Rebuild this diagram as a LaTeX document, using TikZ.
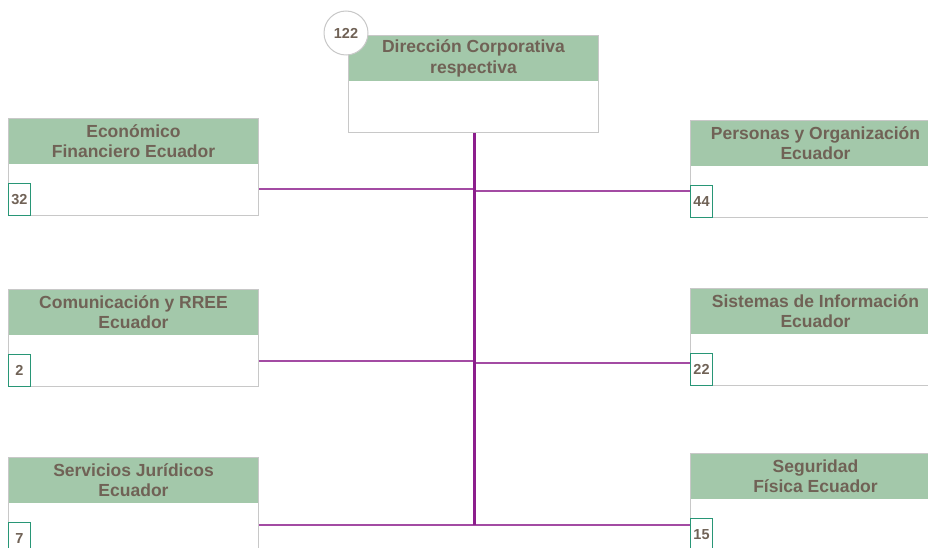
\documentclass[tikz,border=0pt]{standalone}
\usepackage{fontspec}
\setmainfont{Liberation Sans}
\usetikzlibrary{positioning, calc}
\definecolor{headgreen}{RGB}{163,200,170}
\definecolor{labelbrown}{RGB}{112,98,86}
\definecolor{framegray}{RGB}{200,200,200}
\definecolor{countgreen}{RGB}{40,150,118}
\definecolor{linkpurple}{RGB}{140,30,140}
\tikzset{
    unit/.style={draw=framegray, line width=1pt, fill=white, minimum width=250pt, minimum height=97pt, anchor=north west, inner sep=0pt},
    head/.style={fill=headgreen, minimum width=249pt, minimum height=45pt, anchor=north, align=center, inner sep=0pt, text=labelbrown, font=\bfseries\fontsize{17.5}{20.5}\selectfont},
    count/.style={draw=countgreen, line width=1pt, fill=white, minimum width=22pt, minimum height=32pt, anchor=south west, inner sep=1pt, text=labelbrown, font=\bfseries\fontsize{14.5}{16}\selectfont},
    total/.style={circle, draw=framegray, line width=1pt, fill=white, minimum size=44pt, inner sep=0pt, text=labelbrown, font=\bfseries\fontsize{14.5}{16}\selectfont},
    link/.style={draw=linkpurple!80, line width=2pt},
    spine/.style={draw=linkpurple, line width=3pt},
}
\begin{document}
\begin{tikzpicture}[x=1pt, y=-1pt]
    \useasboundingbox (0,0) rectangle (928,548);
    \clip (0,0) rectangle (928,548);

    \node[unit] (top) at (348,35) {};
    \node[head] (tophead) at ([yshift=-0.5pt]top.north) {Dirección Corporativa\\respectiva};
    \node[total] (topN) at (346,33) {122};

    \node[unit] (econ) at (8,118) {};
    \node[head] (econhead) at ([yshift=-0.5pt]econ.north) {Económico\\Financiero Ecuador};
    \node[count] (econN) at (econ.south west) {32};

    \node[unit] (comm) at (8,289) {};
    \node[head] (commhead) at ([yshift=-0.5pt]comm.north) {Comunicación y RREE\\Ecuador};
    \node[count] (commN) at (comm.south west) {2};

    \node[unit] (legal) at (8,457) {};
    \node[head] (legalhead) at ([yshift=-0.5pt]legal.north) {Servicios Jurídicos\\Ecuador};
    \node[count] (legalN) at (legal.south west) {7};

    \node[unit] (people) at (690,120) {};
    \node[head] (peoplehead) at ([yshift=-0.5pt]people.north) {Personas y Organización\\Ecuador};
    \node[count] (peopleN) at (people.south west) {44};

    \node[unit] (systems) at (690,288) {};
    \node[head] (systemshead) at ([yshift=-0.5pt]systems.north) {Sistemas de Información\\Ecuador};
    \node[count] (systemsN) at (systems.south west) {22};

    \node[unit] (security) at (690,453) {};
    \node[head] (securityhead) at ([yshift=-0.5pt]security.north) {Seguridad\\Física Ecuador};
    \node[count] (securityN) at (security.south west) {15};

    \coordinate (spineend) at ($(top.south |- 0,525) + (1,0)$);
    \coordinate (j1) at (spineend |- 0,189);
    \coordinate (j2) at (spineend |- 0,361);
    \coordinate (k1) at (spineend |- 0,191);
    \coordinate (k2) at (spineend |- 0,363);

    \draw[link] (econ.east |- j1) -- (j1);
    \draw[link] (comm.east |- j2) -- (j2);
    \draw[link] (legal.east |- spineend) -- (spineend);
    \draw[link] (k1) -- (people.west |- k1);
    \draw[link] (k2) -- (systems.west |- k2);
    \draw[link] (spineend) -- (security.west |- spineend);

    \draw[spine] (top.south -| spineend) -- (spineend);
\end{tikzpicture}
\end{document}
